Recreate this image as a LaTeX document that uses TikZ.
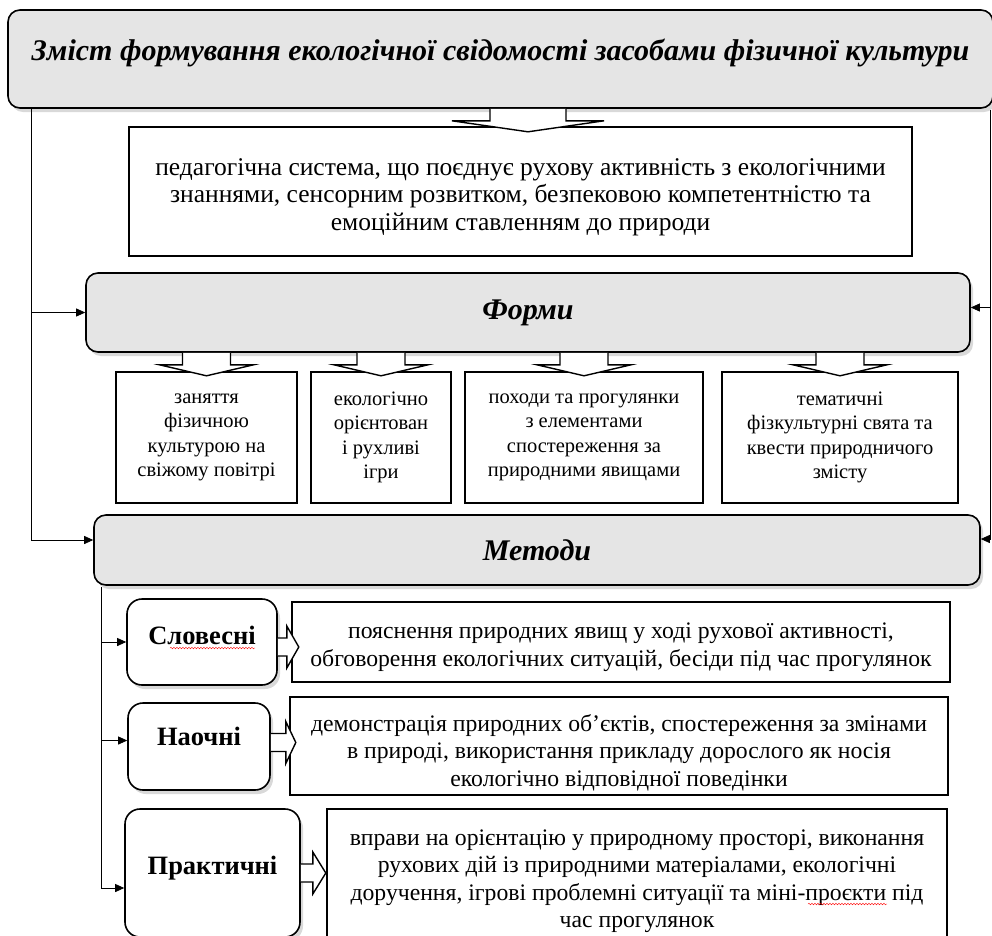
\documentclass[tikz,border=0pt]{standalone}
\usepackage{fontspec}
\setmainfont{Liberation Serif}
\usepackage{tikz}
\usetikzlibrary{arrows.meta,shadows,decorations.pathmorphing}
\definecolor{boxgrey}{RGB}{229,229,229}

\begin{document}
\begin{tikzpicture}[x=1pt,y=-1pt,>={Triangle[length=9pt,width=8pt]},
    grey node/.style={draw,rounded corners=12pt,line width=1.6pt,fill=boxgrey,
      drop shadow={shadow xshift=3pt,shadow yshift=-4pt,opacity=.3},
      font=\bfseries\itshape\fontsize{30}{34}\selectfont},
    text node/.style={draw,line width=1.6pt,fill=white,align=center,inner sep=0pt,
      font=\fontsize{25.5}{27.5}\selectfont},
    desc node/.style={text node,font=\fontsize{23.7}{27.5}\selectfont},
    form node/.style={text node,font=\fontsize{20.5}{24.5}\selectfont},
    method node/.style={draw,rounded corners=15pt,line width=1.6pt,fill=white,
      drop shadow={shadow xshift=3pt,shadow yshift=-4pt,opacity=.3},
      font=\bfseries\fontsize{26.5}{30}\selectfont},
    thin line/.style={line width=.8pt},
    blk/.style={draw,fill=white,line width=1.4pt,line join=miter},
    pics/downblk/.style 2 args={code={
      \path[blk] (-#1,0) -- (-#1,12) -- (-#2,12) -- (0,23) -- (#2,12) -- (#1,12) -- (#1,0);}},
    pics/rightblk/.style 2 args={code={
      \path[blk] (0,-9) -- (#1,-9) -- (#1,-21) -- (#2,0) -- (#1,21) -- (#1,9) -- (0,9);}}]

  \useasboundingbox (0,0) rectangle (992,935);

  % content
  \node[grey node,minimum width=985pt,minimum height=98pt,text depth=18pt] (title) at (500.5,59)
    {Зміст формування екологічної свідомості засобами фізичної культури};
  \node[text node,minimum width=783pt,minimum height=129pt,text height=83pt] (system) at (520.5,191.5)
    {педагогічна система, що поєднує рухову активність з екологічними\\
     знаннями, сенсорним розвитком, безпековою компетентністю та\\
     емоційним ставленням до природи};

  % forms
  \node[grey node,minimum width=884pt,minimum height=79pt] (forms) at (528,312.5) {Форми};
  \node[form node,minimum width=181pt,minimum height=131pt] (f1) at (206.5,437.5)
    {заняття\\ фізичною\\ культурою на\\ свіжому повітрі};
  \node[form node,minimum width=140pt,minimum height=131pt] (f2) at (381,437.5)
    {екологічно\\ орієнтован\\ і рухливі\\ ігри};
  \node[form node,minimum width=238pt,minimum height=131pt] (f3) at (584,437.5)
    {походи та прогулянки\\ з елементами\\ спостереження за\\ природними явищами};
  \node[form node,minimum width=236pt,minimum height=131pt] (f4) at (840,437.5)
    {тематичні\\ фізкультурні свята та\\ квести природничого\\ змісту};

  % methods
  \node[grey node,minimum width=886pt,minimum height=70pt] (methods) at (537,550) {Методи};
  \node[method node,minimum width=150pt,minimum height=86pt,text depth=14pt] (m1) at (202,642) {Словесні};
  \node[method node,minimum width=142pt,minimum height=87pt,text depth=20pt] (m2) at (199,746.5) {Наочні};
  \node[method node,minimum width=175pt,minimum height=128pt,text depth=16pt] (m3) at (212.5,873) {Практичні};
  \node[desc node,minimum width=658pt,minimum height=80pt,text height=54pt] (d1) at (621,642)
    {пояснення природних явищ у ході рухової активності,\\
     обговорення екологічних ситуацій, бесіди під час прогулянок};
  \node[desc node,minimum width=658pt,minimum height=98pt,text height=85pt] (d2) at (619,746)
    {демонстрація природних об’єктів, спостереження за змінами\\
     в природі, використання прикладу дорослого як носія\\
     екологічно відповідної поведінки};
  \node[desc node,minimum width=620pt,minimum height=132pt,text height=111pt] (d3) at (637,875)
    {вправи на орієнтацію у природному просторі, виконання\\
     рухових дій із природними матеріалами, екологічні\\
     доручення, ігрові проблемні ситуації та міні-проєкти під\\
     час прогулянок};

  % block arrows
  \pic at (title.south -| forms.center) {downblk={38}{76}};
  \foreach \n in {f1,f2,f3,f4}
    \pic at (forms.south -| \n.north) {downblk={24}{47}};
  \pic at ([yshift=-5pt]m1.east) {rightblk={9}{21}};
  \pic at ([yshift=4pt]m2.east) {rightblk={15}{25}};
  \pic at (m3.east) {rightblk={12}{25}};

  % side lines
  \coordinate (ltop) at (31,110);
  \coordinate (rtop) at (990,110);
  \coordinate (itop) at (101,587);
  \coordinate (fright) at ([yshift=5pt]forms.east);
  \coordinate (mtwo) at ([yshift=6pt]m2.west);
  \draw[thin line] (title.south -| ltop) -- (ltop);
  \draw[thin line,->] (ltop |- forms.west) -- (forms.west);
  \draw[thin line,->] (ltop) |- ([yshift=10pt]methods.west);
  \draw[thin line,->] (rtop |- fright) -- (fright);
  \draw[thin line,->] (rtop) |- ([yshift=11pt]methods.east);
  \draw[thin line,->] (itop |- m1.west) -- (m1.west);
  \draw[thin line,->] (itop |- mtwo) -- (mtwo);
  \draw[thin line,->] (itop) |- ([yshift=-15pt]m3.west);

  % spelling marks
  \draw[red,thin,decorate,decoration={snake,amplitude=.8pt,segment length=3pt}] (170,648) -- (255,648);
  \draw[red,thin,decorate,decoration={snake,amplitude=.8pt,segment length=3pt}] (808,904) -- (887,904);
\end{tikzpicture}
\end{document}
